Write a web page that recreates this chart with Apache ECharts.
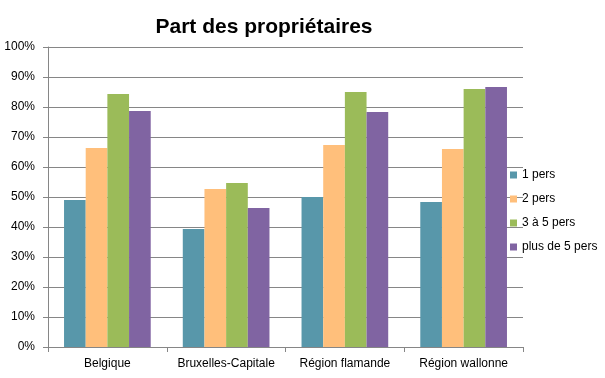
<!DOCTYPE html>
<html>
<head>
<meta charset="utf-8">
<script src="https://cdn.jsdelivr.net/npm/echarts@6/dist/echarts.min.js"></script>
<style>html,body{margin:0;padding:0;background:#fff}#c{width:605px;height:378px}</style>
</head>
<body>
<div id="c"></div>
<script>
const categories = ['Belgique', 'Bruxelles-Capitale', 'Région flamande', 'Région wallonne'];
const seriesNames = ['1 pers', '2 pers', '3 à 5 pers', 'plus de 5 pers'];
const pers1 = [49.0, 39.3, 50.0, 48.3];
const pers2 = [66.3, 52.7, 67.3, 66.0];
const pers3to5 = [84.3, 54.7, 85.0, 86.0];
const persMore5 = [78.7, 46.3, 78.3, 86.7];
const colors = ['#5897AA', '#FFBF7B', '#9BBB59', '#8064A2'];
const values = [pers1, pers2, pers3to5, persMore5];

const chart = echarts.init(document.getElementById('c'), null, {renderer: 'canvas'});
const axisColor = '#868686';
const font = 'Liberation Sans';
chart.setOption({
  animation: false,
  title: {
    text: 'Part des propriétaires',
    left: 259, top: 12, textAlign: 'center',
    textStyle: {fontFamily: font, fontWeight: 'bold', fontSize: 21, color: '#000'}
  },
  legend: {
    orient: 'vertical', left: 505, top: 164,
    itemWidth: 7, itemHeight: 7, itemGap: 12, icon: 'rect',
    textStyle: {fontFamily: font, fontSize: 12, color: '#000'},
    data: seriesNames
  },
  grid: {left: 48, right: 82, top: 47, bottom: 31, containLabel: false},
  xAxis: {
    type: 'category', data: categories,
    axisLine: {lineStyle: {color: axisColor}},
    axisTick: {show: true, length: 5, lineStyle: {color: axisColor}},
    axisLabel: {interval: 0, margin: 11, fontFamily: font, fontSize: 12, color: '#000'}
  },
  yAxis: {
    type: 'value', min: 0, max: 100, interval: 10,
    axisLine: {show: true, lineStyle: {color: axisColor}},
    axisTick: {show: true, length: 5, lineStyle: {color: axisColor}},
    splitLine: {lineStyle: {color: axisColor, width: 1}},
    axisLabel: {margin: 13, fontFamily: font, fontSize: 12, color: '#000', formatter: v => v + '%'}
  },
  series: seriesNames.map((n, i) => ({
    name: n, type: 'bar', data: values[i],
    barGap: '0%', barCategoryGap: '27%',
    itemStyle: {color: colors[i]}
  }))
});
</script>
</body>
</html>
